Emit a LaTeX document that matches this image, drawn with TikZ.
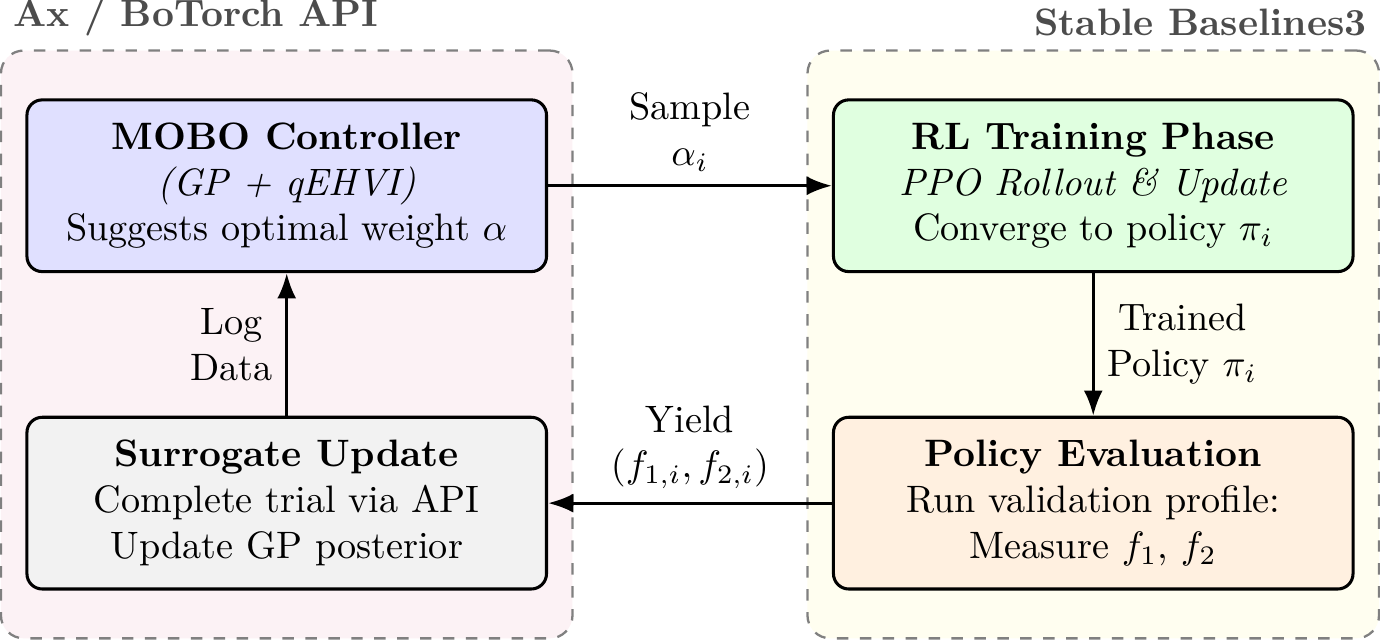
\documentclass[tikz,border=0pt]{standalone}
\usetikzlibrary{arrows.meta,positioning,fit,backgrounds}

\begin{document}
\begin{tikzpicture}[
			stagebox/.style={
				draw,
				thick,
				rounded corners=4pt,
				align=center,
				minimum width=4.78cm,
				minimum height=1.58cm,
				inner sep=4pt
			},
			groupbox/.style={
				draw=gray,
				semithick,
				dashed,
				rounded corners=6pt,
				inner xsep=0.225cm,
				inner ysep=0.44cm
			},
			grouptitle/.style={
				font=\bfseries,
				text=black!70
			},
			flowarrow/.style={
				-Latex,
				thick
			}
		]
			\useasboundingbox (-6.348,-2.719) rectangle (6.348,3.169);
			
			\node[stagebox,fill=blue!12] (mobo) at (-3.71,1.46) {
				\textbf{MOBO Controller}\\
				\textit{(GP + qEHVI)}\\
				Suggests optimal weight $\alpha$
			};
			
			\node[stagebox,fill=gray!10] (surrogate) at (-3.71,-1.46) {
				\textbf{Surrogate Update}\\
				Complete trial via API\\
				Update GP posterior
			};
			
			\node[stagebox,fill=green!12] (training) at (3.71,1.46) {
				\textbf{RL Training Phase}\\
				\textit{PPO Rollout \& Update}\\
				Converge to policy $\pi_i$
			};
			
			\node[stagebox,fill=orange!12] (evaluation) at (3.71,-1.46) {
				\textbf{Policy Evaluation}\\
				Run validation profile:\\
				Measure $f_1$, $f_2$
			};
			
			% framework groups
			\begin{scope}[on background layer]
				\node[groupbox,fill=purple!5,fit=(mobo)(surrogate)] (axgroup) {};
				\node[groupbox,fill=yellow!6,fit=(training)(evaluation)] (sbgroup) {};
			\end{scope}
			\node[grouptitle,anchor=south west] (axtitle) at (axgroup.north west) {Ax / BoTorch API};
			\node[grouptitle,anchor=south east] (sbtitle) at (sbgroup.north east) {Stable Baselines3};
			
			\draw[flowarrow] (mobo.east) -- node[above,align=center] {Sample\\$\alpha_i$} (training.west);
			\draw[flowarrow] (training.south) -- node[right,align=center] {Trained\\Policy $\pi_i$} (evaluation.north);
			\draw[flowarrow] (evaluation.west) -- node[above,align=center] {Yield\\$(f_{1,i}, f_{2,i})$} (surrogate.east);
			\draw[flowarrow] (surrogate.north) -- node[left,align=center] {Log\\Data} (mobo.south);
			
		\end{tikzpicture}
\end{document}
